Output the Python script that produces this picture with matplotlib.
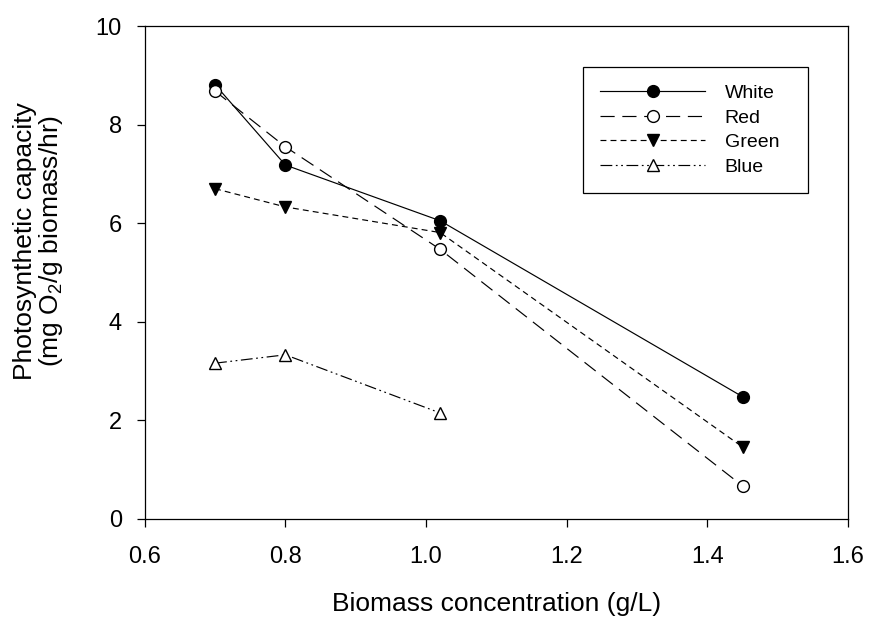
import numpy as np
import matplotlib
matplotlib.use('Agg')
import matplotlib.pyplot as plt

plt.rcParams['font.family'] = ['Liberation Sans', 'DejaVu Sans']
plt.rcParams['mathtext.fontset'] = 'custom'
plt.rcParams['mathtext.rm'] = 'Liberation Sans'

# biomass concentration (g/L)
biomass = [0.7, 0.8, 1.02, 1.45]
biomass_blue = [0.7, 0.8, 1.02]

# photosynthetic capacity (mg O2/g biomass/hr)
white = [8.81, 7.18, 6.05, 2.48]
red = [8.68, 7.55, 5.47, 0.67]
green = [6.70, 6.33, 5.81, 1.46]
blue = [3.16, 3.33, 2.15]

fig = plt.figure(figsize=(8.72, 6.2), dpi=100)
ax = fig.add_axes([0.166, 0.163, 0.8065, 0.795])

lw = 0.85
ax.plot(biomass, white, '-', color='k', lw=lw, marker='o', ms=8.5,
        mfc='k', mec='k', label='White')
ax.plot(biomass, red, color='k', lw=lw, dashes=(12, 6.5), marker='o', ms=8.5,
        mfc='white', mec='k', label='Red')
ax.plot(biomass, green, color='k', lw=lw, dashes=(5, 3.5), marker='v', ms=8.5,
        mfc='k', mec='k', label='Green')
ax.plot(biomass_blue, blue, color='k', lw=lw, dashes=(10, 3, 1.5, 3, 1.5, 3),
        marker='^', ms=8.5, mfc='white', mec='k', label='Blue')

ax.set_xlim(0.6, 1.6)
ax.set_ylim(0, 10)
ax.set_xticks([0.6, 0.8, 1.0, 1.2, 1.4, 1.6])
ax.set_xticklabels(['0.6', '0.8', '1.0', '1.2', '1.4', '1.6'])
ax.set_yticks([0, 2, 4, 6, 8, 10])
ax.tick_params(direction='out', length=5.5, width=0.9, labelsize=17)
ax.tick_params(axis='x', pad=14)
ax.tick_params(axis='y', pad=11)
for s in ax.spines.values():
    s.set_linewidth(0.9)

ax.set_xlabel('Biomass concentration (g/L)', fontsize=19, va='top')
ax.xaxis.set_label_coords(0.5, -0.148)
ax.set_ylabel('Photosynthetic capacity\n(mg O$_2$/g biomass/hr)', fontsize=19,
              linespacing=1.0, va='center')
ax.yaxis.set_label_coords(-0.151, 0.564)

# legend box spans a fixed width like the original
leg = ax.legend(loc='upper left', bbox_to_anchor=(0.623, 0.917, 0.32, 0),
                mode='expand', fontsize=14, handlelength=5.4,
                handletextpad=1.0, borderpad=0.9, labelspacing=0.36,
                borderaxespad=0, fancybox=False, edgecolor='k', framealpha=1)
leg.get_frame().set_linewidth(0.9)

fig.savefig('out.png', dpi=100)
